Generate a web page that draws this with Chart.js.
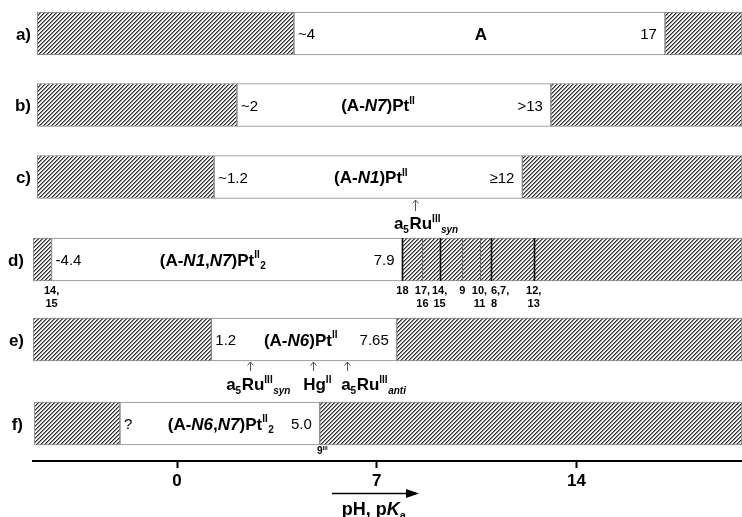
<!DOCTYPE html>
<html><head><meta charset="utf-8">
<script src="https://cdn.jsdelivr.net/npm/chart.js@4.4.1/dist/chart.umd.min.js"></script>
<style>html,body{margin:0;padding:0;background:#fff}#wrap{width:742px;height:517px;position:relative}</style>
</head><body><div id="wrap"><canvas id="c"></canvas></div>
<script>
// ---------- data ----------
const rowLabels   = ['a)', 'b)', 'c)', 'd)', 'e)', 'f)'];
const lowerLimit  = [4.1, 2.1, 1.3, -4.4, 1.2, -2.0];     // start of open (white) range, pH
const upperLimit  = [17.1, 13.1, 12.1, 7.9, 7.7, 5.0];    // end of open range, pH
const lowerText   = ['~4', '~2', '~1.2', '-4.4', '1.2', '?'];
const upperText   = ['17', '>13', '\u226512', '7.9', '7.65', '5.0'];
const speciesName = [
  'A',
  '(A-<i>N7</i>)Pt<sup>II</sup>',
  '(A-<i>N1</i>)Pt<sup>II</sup>',
  '(A-<i>N1</i>,<i>N7</i>)Pt<sup>II</sup><sub>2</sub>',
  '(A-<i>N6</i>)Pt<sup>II</sup>',
  '(A-<i>N6</i>,<i>N7</i>)Pt<sup>II</sup><sub>2</sub>'
];
const nameAt      = [10.65, 7.05, 6.8, 1.26, 4.34, 1.54]; // pH at centre of species name
const rangeStart  = [-4.9, -4.9, -4.9, -5.05, -5.05, -5.0];
const rangeEnd    = 19.8;
const xTicks      = [0, 7, 14];

// row d: pKa markers of compounds inside the hatched region
const dMarkers      = [7.9, 8.6, 9.2, 10.0, 10.6, 11.0, 12.5];
const dMarkerStrong = [true, false, true, false, false, true, true];
const dMarkerLabels = [['18'], ['17,', '16'], ['14,', '15'], ['9'], ['10,', '11'], ['6,7,', '8'], ['12,', '13']];
const dMarkerAlign  = ['center', 'center', 'center', 'center', 'center', 'left', 'center'];
const dLeftLabel    = ['14,', '15'];
const dLeftAt       = -4.4;

// metal ion binding arrows
const cArrowAt   = [8.33];
const cArrowText = ['a<sub>5</sub>Ru<sup>III</sup><sub><i>syn</i></sub>'];
const cTextFrom  = [7.6];
const eArrowAt   = [2.56, 4.76, 5.95];
const eArrowText = ['a<sub>5</sub>Ru<sup>III</sup><sub><i>syn</i></sub>', 'Hg<sup>II</sup>', 'a<sub>5</sub>Ru<sup>III</sup><sub><i>anti</i></sub>'];
const eTextFrom  = [1.72, 4.42, 5.75];
const fNoteAt    = 5.1;
const fNote      = '9<sup>III</sup>';

// ---------- layout ----------
const rowCenter = [33.5, 105, 177, 259.5, 339.5, 423.5];
const labelRight = [31, 31, 31, 24, 24, 23];
const FONT = '"Liberation Sans", Arial, Helvetica, sans-serif';

const cv = document.getElementById('c');
const ctx0 = cv.getContext('2d');
function makeHatch() {
  const n = 4;
  const shade = [45, 140, 250, 235];
  const t = document.createElement('canvas');
  t.width = n; t.height = n;
  const g = t.getContext('2d');
  const img = g.createImageData(n, n);
  for (let y = 0; y < n; y++) for (let x = 0; x < n; x++) {
    const v = shade[(x + y) % n];
    const i = (y * n + x) * 4;
    img.data[i] = img.data[i + 1] = img.data[i + 2] = v; img.data[i + 3] = 255;
  }
  g.putImageData(img, 0, 0);
  return ctx0.createPattern(t, 'repeat');
}
const hatch = makeHatch();

const whiteData = rowLabels.map((r, i) => ({ x: [lowerLimit[i], upperLimit[i]], y: rowCenter[i] }));
const hatchData = [];
rowLabels.forEach((r, i) => {
  hatchData.push({ x: [rangeStart[i], lowerLimit[i]], y: rowCenter[i] });
  hatchData.push({ x: [upperLimit[i], rangeEnd], y: rowCenter[i] });
});

// rich text helpers
function parseRich(s) {
  const parts = s.split(/(<\/?(?:i|sup|sub)>)/);
  let it = false, mode = 'n';
  const runs = [];
  for (const p of parts) {
    if (!p) continue;
    if (p === '<i>') it = true; else if (p === '</i>') it = false;
    else if (p === '<sup>') mode = 'sup'; else if (p === '<sub>') mode = 'sub';
    else if (p === '</sup>' || p === '</sub>') mode = 'n';
    else runs.push({ t: p, it, mode });
  }
  return runs;
}
function runFont(r, size, bold) {
  const sz = r.mode === 'n' ? size : Math.round(size * 0.6);
  return (r.it ? 'italic ' : '') + (bold ? 'bold ' : '') + sz + 'px ' + FONT;
}
function drawRich(ctx, s, x, y, size, bold, align) {
  const runs = parseRich(s);
  let w = 0;
  const ws = runs.map(r => { ctx.font = runFont(r, size, bold); const m = ctx.measureText(r.t).width + (r.mode !== 'n' ? 0.5 : 0); w += m; return m; });
  let cx = align === 'center' ? x - w / 2 : (align === 'right' ? x - w : x);
  ctx.textAlign = 'left';
  ctx.textBaseline = 'alphabetic';
  runs.forEach((r, i) => {
    ctx.font = runFont(r, size, bold);
    const dy = r.mode === 'sup' ? -size * 0.42 : (r.mode === 'sub' ? size * 0.22 : 0);
    ctx.fillText(r.t, cx, y + dy);
    cx += ws[i];
  });
}
function arrowUp(ctx, x, yTop, yBot) {
  ctx.save();
  ctx.strokeStyle = '#555'; ctx.lineWidth = 1;
  ctx.beginPath();
  ctx.moveTo(x + 0.5, yBot); ctx.lineTo(x + 0.5, yTop);
  ctx.moveTo(x - 2.5, yTop + 3.5); ctx.lineTo(x + 0.5, yTop); ctx.lineTo(x + 3.5, yTop + 3.5);
  ctx.stroke();
  ctx.restore();
}

const annot = {
  id: 'annot',
  afterDatasetsDraw(chart) {
    const ctx = chart.ctx, xs = chart.scales.x;
    const top = rowCenter[3] - 21.5, bot = rowCenter[3] + 21.5;
    ctx.save();
    dMarkers.forEach((v, i) => {
      const px = Math.round(xs.getPixelForValue(v));
      ctx.strokeStyle = dMarkerStrong[i] ? '#111' : '#666';
      ctx.lineWidth = dMarkerStrong[i] ? 1.6 : 1;
      ctx.beginPath(); ctx.moveTo(px + 0.5, top); ctx.lineTo(px + 0.5, bot); ctx.stroke();
    });
    ctx.restore();
  },
  afterDraw(chart) {
    const ctx = chart.ctx, xs = chart.scales.x;
    const X = v => xs.getPixelForValue(v);
    ctx.save();
    ctx.fillStyle = '#000';
    rowLabels.forEach((lab, i) => {
      const cy = rowCenter[i];
      drawRich(ctx, lab, labelRight[i], cy + 6, 17, true, 'right');
      drawRich(ctx, lowerText[i], X(lowerLimit[i]) + 4, cy + 5.5, 15, false, 'left');
      drawRich(ctx, upperText[i], X(upperLimit[i]) - 8, cy + 5.5, 15, false, 'right');
      drawRich(ctx, speciesName[i], X(nameAt[i]), cy + 6, 17, true, 'center');
    });
    // d-row marker labels
    dMarkerLabels.forEach((lines, i) => {
      const px = X(dMarkers[i]);
      lines.forEach((t, k) => drawRich(ctx, t, px, 294 + k * 12.5, 11, true, dMarkerAlign[i]));
    });
    dLeftLabel.forEach((t, k) => drawRich(ctx, t, X(dLeftAt), 294 + k * 12.5, 11, true, 'center'));
    // arrows + metal ion labels
    cArrowAt.forEach((v, i) => {
      arrowUp(ctx, Math.round(X(v)), 200, 211);
      drawRich(ctx, cArrowText[i], X(cTextFrom[i]), 229, 17, true, 'left');
    });
    eArrowAt.forEach((v, i) => {
      arrowUp(ctx, Math.round(X(v)), 362, 371);
      drawRich(ctx, eArrowText[i], X(eTextFrom[i]), 390, 17, true, 'left');
    });
    drawRich(ctx, fNote, X(fNoteAt), 454, 10, true, 'center');
    // axis title with arrow
    ctx.strokeStyle = '#000'; ctx.fillStyle = '#000'; ctx.lineWidth = 1.5;
    ctx.beginPath(); ctx.moveTo(332, 493.5); ctx.lineTo(408, 493.5); ctx.stroke();
    ctx.beginPath(); ctx.moveTo(419, 493.5); ctx.lineTo(406, 489); ctx.lineTo(406, 498); ctx.closePath(); ctx.fill();
    drawRich(ctx, 'pH, p<i>K</i><sub>a</sub>', 374, 515, 18, true, 'center');
    ctx.restore();
  }
};

new Chart(cv, {
  type: 'bar',
  data: {
    datasets: [
      { data: whiteData, backgroundColor: '#fff', borderColor: '#888', borderWidth: 1, borderSkipped: false, grouped: false, barThickness: 43 },
      { data: hatchData, backgroundColor: hatch, borderColor: '#888', borderWidth: 1, borderSkipped: false, grouped: false, barThickness: 43 }
    ]
  },
  options: {
    indexAxis: 'y',
    responsive: true,
    maintainAspectRatio: false,
    animation: false,
    layout: { padding: { left: 33, right: 0, top: 0, bottom: 0 } },
    plugins: { legend: { display: false }, tooltip: { enabled: false } },
    scales: {
      y: { type: 'linear', min: 0, max: 461, reverse: true, offset: false, display: false },
      x: {
        type: 'linear', min: -5.05, max: rangeEnd, position: 'bottom',
        afterBuildTicks: s => { s.ticks = xTicks.map(v => ({ value: v })); },
        afterFit: s => { s.height = 56; },
        border: { display: true, color: '#000', width: 2 },
        grid: { drawOnChartArea: false, drawTicks: true, tickLength: 7, tickWidth: 2, tickColor: '#000' },
        ticks: { color: '#000', padding: 3, maxRotation: 0, autoSkip: false, font: { family: FONT, size: 17, weight: 'bold' } }
      }
    }
  },
  plugins: [annot]
});
</script></body></html>
